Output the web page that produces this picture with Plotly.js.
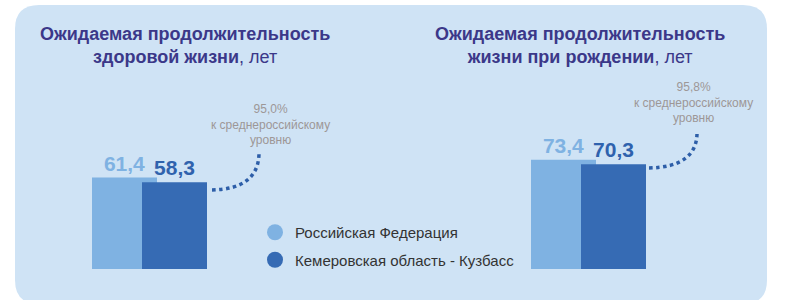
<!DOCTYPE html>
<html>
<head>
<meta charset="utf-8">
<script src="https://cdn.plot.ly/plotly-3.0.1.min.js"></script>
<style>html,body{margin:0;padding:0;background:#fff;}#chart{width:785px;height:300px;}</style>
</head>
<body>
<div id="chart"></div>
<script>
// ---- data ----
const categories = ['Ожидаемая продолжительность здоровой жизни', 'Ожидаемая продолжительность жизни при рождении'];
const titleBold1 = ['Ожидаемая продолжительность', 'Ожидаемая продолжительность'];
const titleBold2 = ['здоровой жизни', 'жизни при рождении'];
const titleUnit = ', лет';
const seriesNames = ['Российская Федерация', 'Кемеровская область - Кузбасс'];
const russia = [61.4, 73.4];
const kuzbass = [58.3, 70.3];
const ratioLabels = ['95,0%', '95,8%'];
const ratioText = 'к среднероссийскому<br>уровню';

// ---- styling / layout helpers ----
const W = 785, H = 300;
const px = x => x / W;
const py = y => 1 - y / H;
const cLight = '#7fb2e2', cDark = '#366bb4';
const groupSpacing = 439;           // px between category centres
const firstCenter = 149.5;          // px of first category centre
const barW = 65 / groupSpacing;
const pxPerUnit = 1.49, baseY = 269;

const traces = [
  {
    type: 'bar', x: categories, y: russia, name: seriesNames[0], showlegend: false,
    width: barW, offset: (92 - firstCenter) / groupSpacing,
    marker: {color: cLight, line: {width: 0}},
    texttemplate: '%{y:.1f}', textposition: 'outside', constraintext: 'none', cliponaxis: false,
    textfont: {family: 'Liberation Sans, Arial, sans-serif', size: 21, color: cLight, weight: 'bold'},
    hoverinfo: 'skip'
  },
  {
    type: 'bar', x: categories, y: kuzbass, name: seriesNames[1], showlegend: false,
    width: barW, offset: (142 - firstCenter) / groupSpacing,
    marker: {color: cDark, line: {width: 0}},
    texttemplate: '%{y:.1f}', textposition: 'outside', constraintext: 'none', cliponaxis: false,
    textfont: {family: 'Liberation Sans, Arial, sans-serif', size: 21, color: '#2f62ad', weight: 'bold'},
    hoverinfo: 'skip'
  },
  {
    type: 'scatter', mode: 'markers', x: [null], y: [null], name: seriesNames[0],
    legendgroup: 'a', marker: {color: cLight, size: 16, symbol: 'circle'}, hoverinfo: 'skip'
  },
  {
    type: 'scatter', mode: 'markers', x: [null], y: [null], name: seriesNames[1],
    legendgroup: 'b', marker: {color: cDark, size: 16, symbol: 'circle'}, hoverinfo: 'skip'
  }
];

function roundRect(x0, y0, x1, y1, r) {
  const rx = r / W, ry = r / H;
  const a = px(x0), b = px(x1), t = py(y0), u = py(y1);
  return `M ${a + rx} ${t} L ${b - rx} ${t} Q ${b} ${t} ${b} ${t - ry} L ${b} ${u + ry} Q ${b} ${u} ${b - rx} ${u} ` +
         `L ${a + rx} ${u} Q ${a} ${u} ${a} ${u + ry} L ${a} ${t - ry} Q ${a} ${t} ${a + rx} ${t} Z`;
}
function curve(x0, y0, cx, cy, x1, y1) {
  return `M ${px(x0)} ${py(y0)} Q ${px(cx)} ${py(cy)} ${px(x1)} ${py(y1)}`;
}

const titleFont = {family: 'Liberation Sans, Arial, sans-serif', size: 18, color: '#3b3889'};
const greyFont = {family: 'Liberation Sans, Arial, sans-serif', size: 12, color: '#9d9797'};

const annotations = [
  {xref: 'paper', yref: 'paper', x: px(185), y: py(45), xanchor: 'center', yanchor: 'middle', showarrow: false,
   text: `<b>${titleBold1[0]}</b><br><b>${titleBold2[0]}</b>${titleUnit}`, font: titleFont, align: 'center'},
  {xref: 'paper', yref: 'paper', x: px(580), y: py(45), xanchor: 'center', yanchor: 'middle', showarrow: false,
   text: `<b>${titleBold1[1]}</b><br><b>${titleBold2[1]}</b>${titleUnit}`, font: titleFont, align: 'center'},
  {xref: 'paper', yref: 'paper', x: px(270), y: py(124), xanchor: 'center', yanchor: 'middle', showarrow: false,
   text: `${ratioLabels[0]}<br>${ratioText}`, font: greyFont, align: 'center'},
  {xref: 'paper', yref: 'paper', x: px(693), y: py(103), xanchor: 'center', yanchor: 'middle', showarrow: false,
   text: `${ratioLabels[1]}<br>${ratioText}`, font: greyFont, align: 'center'}
];

const layout = {
  width: W, height: H,
  margin: {l: 0, r: 0, t: 0, b: 0, pad: 0},
  paper_bgcolor: '#ffffff', plot_bgcolor: 'rgba(0,0,0,0)',
  barmode: 'overlay', separators: ',.',
  xaxis: {type: 'category', range: [-firstCenter / groupSpacing, (W - firstCenter) / groupSpacing],
          visible: false, fixedrange: true},
  yaxis: {range: [-(H - baseY) / pxPerUnit, baseY / pxPerUnit], visible: false, fixedrange: true},
  showlegend: true,
  legend: {x: px(255), y: py(216), xanchor: 'left', yanchor: 'top', bgcolor: 'rgba(0,0,0,0)',
           font: {family: 'Liberation Sans, Arial, sans-serif', size: 15, color: '#333333'},
           traceorder: 'grouped', tracegroupgap: 5, itemclick: false, itemdoubleclick: false},
  shapes: [
    {type: 'path', xref: 'paper', yref: 'paper', layer: 'below', path: roundRect(15, 5, 767, 304, 24),
     fillcolor: '#cfe3f5', line: {width: 0}},
    {type: 'path', xref: 'paper', yref: 'paper', layer: 'above', path: curve(212, 190, 258, 189, 259, 154),
     line: {color: '#2d5ea8', width: 3.5, dash: 'dot'}},
    {type: 'path', xref: 'paper', yref: 'paper', layer: 'above', path: curve(649, 168, 696, 167, 697, 134),
     line: {color: '#2d5ea8', width: 3.5, dash: 'dot'}}
  ],
  annotations: annotations,
  hovermode: false
};

Plotly.newPlot('chart', traces, layout, {staticPlot: true, displayModeBar: false});
</script>
</body>
</html>
